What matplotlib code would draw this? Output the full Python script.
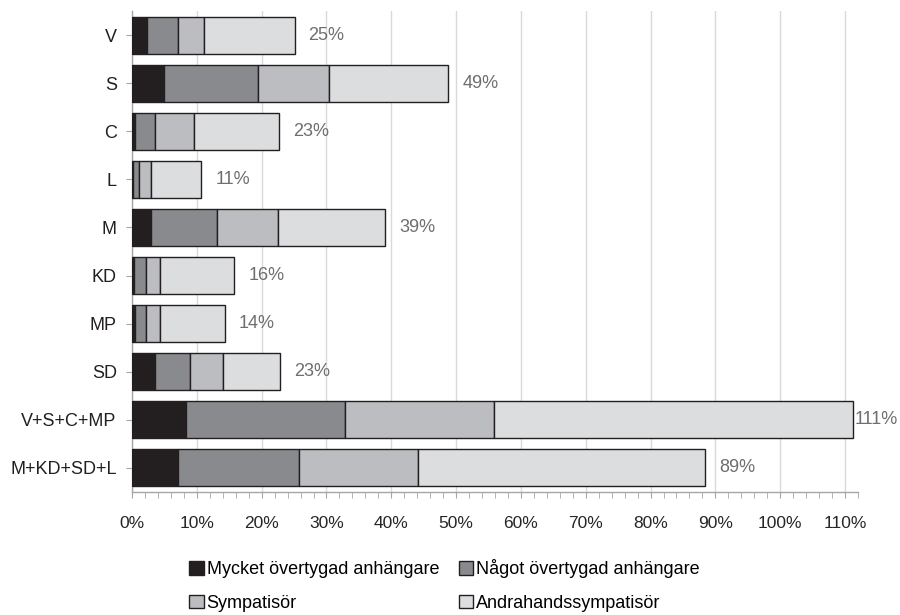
import numpy as np
import matplotlib.pyplot as plt
from matplotlib.ticker import MultipleLocator, PercentFormatter

plt.rcParams["font.family"] = ["Liberation Sans", "DejaVu Sans"]

# Data (percent)
parties = ["V", "S", "C", "L", "M", "KD", "MP", "SD", "V+S+C+MP", "M+KD+SD+L"]
mycket = [2.3, 5.0, 0.5, 0.1, 3.0, 0.3, 0.5, 3.5, 8.4, 7.1]
nagot = [4.8, 14.5, 3.1, 1.0, 10.1, 1.8, 1.6, 5.5, 24.5, 18.6]
sympatisor = [4.0, 10.9, 5.9, 1.9, 9.4, 2.2, 2.2, 5.1, 23.0, 18.4]
andrahand = [14.0, 18.4, 13.2, 7.7, 16.6, 11.5, 10.0, 8.7, 55.3, 44.3]
total_labels = ["25%", "49%", "23%", "11%", "39%", "16%", "14%", "23%", "111%", "89%"]

series = [
    ("Mycket övertygad anhängare", mycket, "#231f20"),
    ("Något övertygad anhängare", nagot, "#898a8d"),
    ("Sympatisör", sympatisor, "#bcbdc0"),
    ("Andrahandssympatisör", andrahand, "#dcdddf"),
]

fig = plt.figure(figsize=(9, 6.15), dpi=100)
ax = fig.add_axes([0.1467, 0.2, 0.8066, 0.782])

y = np.arange(len(parties))
left = np.zeros(len(parties))
handles = []
for name, vals, color in series:
    b = ax.barh(y, vals, left=left, height=0.77, color=color,
                edgecolor="#231f20", linewidth=1, label=name, zorder=3)
    handles.append(b)
    left = left + np.array(vals)

xmax = 112
ax.set_xlim(0, xmax)
ax.set_ylim(len(parties) - 0.5, -0.5)

# Total labels to the right of each bar
for yi, tot, lab in zip(y, left, total_labels):
    off = 10 if tot + 2 < xmax else 1
    ax.annotate(lab, xy=(tot, yi), xytext=(off, 0), textcoords="offset points",
                ha="left", va="center", fontsize=13, color="#6d6e71",
                annotation_clip=False)

ax.xaxis.set_major_locator(MultipleLocator(10))
ax.xaxis.set_minor_locator(MultipleLocator(2))
ax.xaxis.set_major_formatter(PercentFormatter(100, decimals=0))
ax.set_yticks(y)
ax.set_yticklabels(parties)

ax.grid(axis="x", which="major", color="#d9d9d9", linewidth=1, zorder=0)
ax.set_axisbelow(True)

for s in ["top", "right"]:
    ax.spines[s].set_visible(False)
for s in ["left", "bottom"]:
    ax.spines[s].set_color("#a6a6a6")
    ax.spines[s].set_linewidth(1)

ax.tick_params(axis="x", which="both", direction="out", length=4,
               color="#a6a6a6", labelsize=12.5, labelcolor="#262626", pad=13)
ax.tick_params(axis="y", direction="out", length=4, color="#a6a6a6",
               labelsize=13, labelcolor="#231f20", pad=7)

order = [0, 2, 1, 3]
fig.legend([handles[i] for i in order], [series[i][0] for i in order],
           loc="center", bbox_to_anchor=(0.494, 0.048), ncol=2, frameon=False,
           fontsize=13, handlelength=0.8, handleheight=0.8,
           handletextpad=0.15, columnspacing=1.1, labelspacing=0.9,
           borderpad=0, borderaxespad=0)

fig.savefig("out.png", dpi=100)
